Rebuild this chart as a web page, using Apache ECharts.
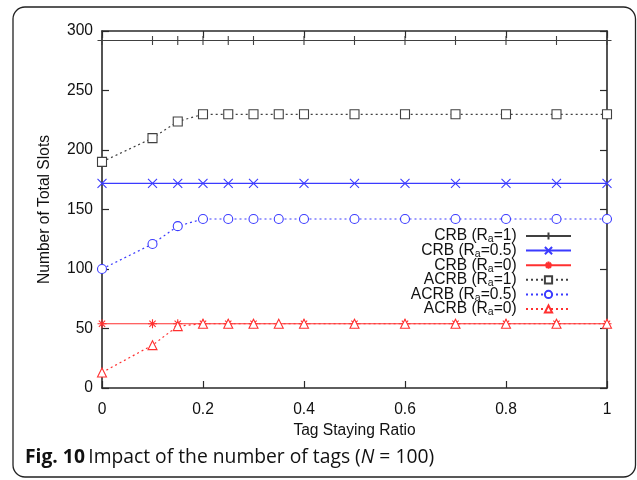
<!DOCTYPE html>
<html>
<head>
<meta charset="utf-8">
<script src="https://cdn.jsdelivr.net/npm/echarts@6/dist/echarts.min.js"></script>
<style>html,body{margin:0;padding:0;background:#fff}#c{width:637px;height:480px}</style>
</head>
<body>
<div id="c"></div>
<script>
// x positions
var xCRB = [0, 0.1, 0.15, 0.2, 0.25, 0.3, 0.4, 0.5, 0.6, 0.7, 0.8, 0.9, 1];
var xACRB = [0, 0.1, 0.15, 0.2, 0.25, 0.3, 0.35, 0.4, 0.5, 0.6, 0.7, 0.8, 0.9, 1];
// series values
var crbRa1   = [292, 292, 292, 292, 292, 292, 292, 292, 292, 292, 292, 292, 292];
var crbRa05  = [172, 172, 172, 172, 172, 172, 172, 172, 172, 172, 172, 172, 172];
var crbRa0   = [54, 54, 54, 54, 54, 54, 54, 54, 54, 54, 54, 54, 54];
var acrbRa1  = [190, 210, 224, 230, 230, 230, 230, 230, 230, 230, 230, 230, 230, 230];
var acrbRa05 = [100, 121, 136, 142, 142, 142, 142, 142, 142, 142, 142, 142, 142, 142];
var acrbRa0  = [13, 36, 52, 54, 54, 54, 54, 54, 54, 54, 54, 54, 54, 54];
// tick labels
var xTickLabels = ['0', '0.2', '0.4', '0.6', '0.8', '1'];
var yTickLabels = ['0', '50', '100', '150', '200', '250', '300'];

function pairs(xs, ys) { return xs.map(function (x, i) { return [x, ys[i]]; }); }

var BLACK = '#2a2a2a', GREY = '#404040', BLUE = '#3b3bff', RED = '#ff3030';
var PLUS = 'path://M0,5L10,5M5,0L5,10';
var CROSS = 'path://M0,0L10,10M10,0L0,10';
var STAR = 'path://M0,5L10,5M5,0L5,10M1.5,1.5L8.5,8.5M8.5,1.5L1.5,8.5';
var DOT = [2, 3];

function mk(name, xs, ys, color, symbol, dotted) {
  return {
    name: name, type: 'line', data: pairs(xs, ys),
    symbol: symbol, symbolSize: 9, showAllSymbol: true,
    lineStyle: { color: color, width: 1.2, type: dotted ? DOT : 'solid' },
    itemStyle: { color: dotted ? '#fff' : color, borderColor: color, borderWidth: 1.1 },
    emphasis: { disabled: true }, animation: false
  };
}

var names = ['CRB (Ra=1)', 'CRB (Ra=0.5)', 'CRB (Ra=0)', 'ACRB (Ra=1)', 'ACRB (Ra=0.5)', 'ACRB (Ra=0)'];

var FS = 15.6;
var axisFont = { fontFamily: 'Liberation Sans', fontSize: FS, color: '#111' };

function axisBase(extra) {
  return Object.assign({
    axisLine: { show: true, onZero: false, lineStyle: { color: BLACK, width: 1.6 } },
    axisTick: { show: true, inside: true, length: 7, lineStyle: { color: BLACK, width: 1.2 } },
    splitLine: { show: false }
  }, extra);
}

var option = {
  animation: false,
  backgroundColor: '#fff',
  grid: { left: 102, right: 30, top: 31, bottom: 92 },
  xAxis: [
    axisBase({
      type: 'value', position: 'bottom', min: 0, max: 1, interval: 0.2,
      name: 'Tag Staying Ratio', nameLocation: 'middle', nameGap: 31,
      nameTextStyle: axisFont,
      axisLabel: Object.assign({ margin: 14, formatter: function (v) { return xTickLabels[Math.round(v / 0.2)]; } }, axisFont)
    }),
    axisBase({
      type: 'value', position: 'top', min: 0, max: 1, interval: 0.2,
      axisLabel: { show: false }
    })
  ],
  yAxis: [
    axisBase({
      type: 'value', position: 'left', min: 0, max: 300, interval: 50,
      name: 'Number of Total Slots', nameLocation: 'middle', nameGap: 49,
      nameTextStyle: axisFont,
      axisLabel: Object.assign({ margin: 9, formatter: function (v) { return yTickLabels[Math.round(v / 50)]; } }, axisFont)
    }),
    axisBase({
      type: 'value', position: 'right', min: 0, max: 300, interval: 50,
      axisLabel: { show: false }
    })
  ],
  legend: {
    orient: 'vertical', align: 'right', right: 60, top: 223,
    itemWidth: 45, itemHeight: 9, itemGap: -2.4,
    data: names,
    formatter: function (n) {
      var m = n.match(/^(.*\(R)a(=.*)$/);
      return '{n|' + m[1] + '}{s|a}{n|' + m[2] + ' }';
    },
    textStyle: {
      rich: {
        n: { fontFamily: 'Liberation Sans', fontSize: FS, color: '#111', lineHeight: 18, verticalAlign: 'middle' },
        s: { fontFamily: 'Liberation Sans', fontSize: 10.5, color: '#111', lineHeight: 10, verticalAlign: 'bottom' }
      }
    }
  },
  graphic: [
    { type: 'rect', silent: true, shape: { x: 13, y: 7, width: 622.5, height: 470, r: 12 },
      style: { fill: 'none', stroke: '#222', lineWidth: 1.3 } },
    { type: 'text', x: 25, y: 458, silent: true,
      style: {
        text: '{b|Fig. 10} {r|Impact of the number of tags (}{i|N}{r| = 100)}',
        verticalAlign: 'middle',
        rich: {
          b: { fontFamily: 'Open Sans', fontWeight: 'bold', fontSize: 19.3, fill: '#111' },
          r: { fontFamily: 'Open Sans', fontSize: 19.3, fill: '#111' },
          i: { fontFamily: 'Open Sans', fontStyle: 'italic', fontSize: 19.3, fill: '#111' }
        }
      } }
  ],
  series: [
    mk(names[0], xCRB, crbRa1, GREY, PLUS, false),
    mk(names[1], xCRB, crbRa05, BLUE, CROSS, false),
    mk(names[2], xCRB, crbRa0, RED, STAR, false),
    mk(names[3], xACRB, acrbRa1, GREY, 'rect', true),
    mk(names[4], xACRB, acrbRa05, BLUE, 'circle', true),
    mk(names[5], xACRB, acrbRa0, RED, 'triangle', true)
  ]
};
var chart = echarts.init(document.getElementById('c'), null, { renderer: 'canvas' });
chart.setOption(option);
</script>
</body>
</html>
